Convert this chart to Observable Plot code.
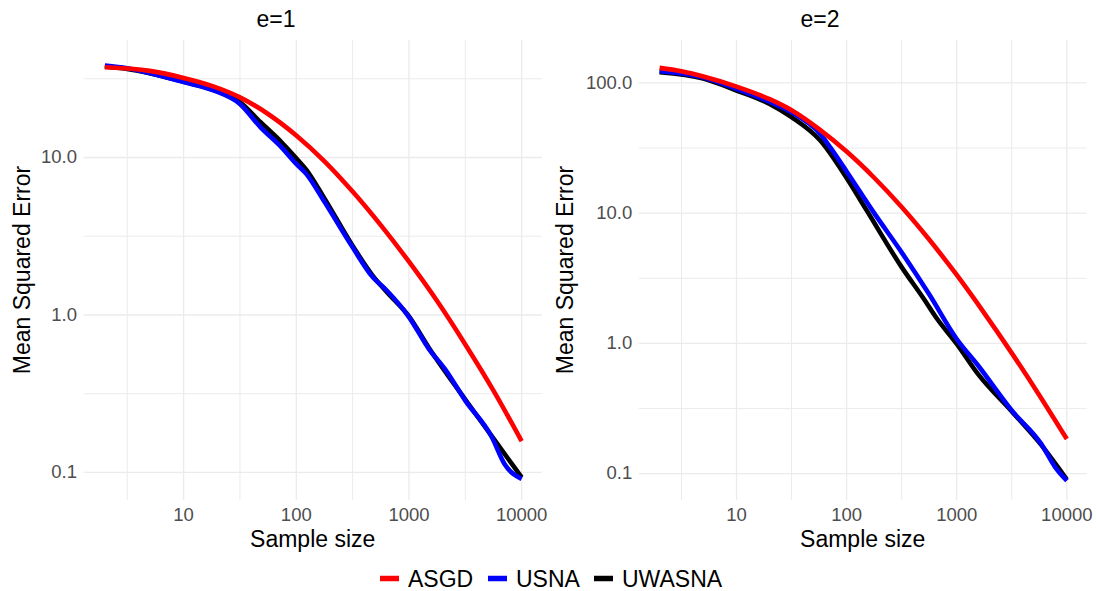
<!DOCTYPE html>
<html><head><meta charset="utf-8">
<script src="https://cdn.jsdelivr.net/npm/d3@7"></script>
<script src="https://cdn.jsdelivr.net/npm/@observablehq/plot@0.6"></script>
<style>
body{margin:0;background:#fff;font-family:"Liberation Sans",Arial,sans-serif;}
#root{position:relative;width:1097px;height:591px;overflow:hidden;background:#fff;}
#root > svg{position:absolute;top:0;}
</style></head><body><div id="root"></div>
<script>
// ---------- data ----------
const panelTitles = ["e=1", "e=2"];
const seriesNames = ["ASGD", "USNA", "UWASNA"];
const seriesColors = ["#FF0000", "#0000FF", "#000000"];
const xLabel = "Sample size";
const yLabel = "Mean Squared Error";

const xTicks = [10, 100, 1000, 10000];
const xTickLabels = ["10", "100", "1000", "10000"];
const xMinor = [3.1623, 31.623, 316.23, 3162.3];

const yTicksE1 = [0.1, 1, 10];
const yTickLabelsE1 = ["0.1", "1.0", "10.0"];
const yMinorE1 = [0.31623, 3.1623, 31.623];
const yTicksE2 = [0.1, 1, 10, 100];
const yTickLabelsE2 = ["0.1", "1.0", "10.0", "100.0"];
const yMinorE2 = [0.31623, 3.1623, 31.623];

// e=1
const nE1Asgd = [2, 5, 10, 17.8, 31.6, 56.2, 100, 178, 316, 562, 1000, 1778, 3162, 5623, 10000];
const mseE1Asgd = [37.4, 35.5, 32.0, 28.5, 24.1, 18.9, 13.8, 9.46, 6.08, 3.72, 2.18, 1.226, 0.650, 0.331, 0.158];
const nE1Usna = [2, 3.16, 10, 18.7, 31.6, 48, 74, 100, 122, 175, 316, 476, 635, 1000, 1500, 2080, 3162, 5430, 7000, 10000];
const mseE1Usna = [38.4, 36.9, 30.1, 26.6, 21.9, 15.6, 11.6, 9.1, 7.9, 5.33, 2.69, 1.74, 1.43, 0.97, 0.61, 0.455, 0.286, 0.168, 0.114, 0.091];
const nE1Uwasna = [2, 3.16, 10, 18.7, 31.6, 48, 74, 100, 122, 175, 316, 476, 635, 1000, 1500, 3162, 5430, 10000];
const mseE1Uwasna = [37.8, 36.5, 30.3, 26.8, 22.5, 16.8, 12.5, 9.9, 8.4, 5.6, 2.75, 1.78, 1.40, 0.98, 0.62, 0.29, 0.17, 0.093];

// e=2
const nE2Asgd = [2, 3.16, 5, 10, 20, 31.6, 56.2, 100, 178, 316, 562, 1000, 1778, 3162, 5623, 10000];
const mseE2Asgd = [130.6, 123, 112, 93.8, 75, 61.7, 44.2, 29.7, 18.7, 11.15, 6.27, 3.35, 1.708, 0.841, 0.40, 0.184];
const nE2Usna = [2, 5, 10, 20, 31.6, 57.7, 71.8, 100, 178, 316, 562, 1000, 1563, 3162, 5850, 7830, 10000];
const mseE2Usna = [123, 110, 90, 71.6, 59.6, 40.6, 31.6, 20.9, 10.0, 5.0, 2.38, 1.08, 0.676, 0.305, 0.169, 0.112, 0.088];
const nE2Uwasna = [2, 5, 10, 20, 31.6, 57.7, 100, 150, 316, 500, 650, 1000, 1563, 3162, 5850, 10000];
const mseE2Uwasna = [121, 108, 87.5, 69, 54.6, 36.1, 18.6, 10.7, 3.85, 2.21, 1.58, 0.99, 0.58, 0.30, 0.166, 0.09];

// ---------- build tables ----------
function zip(series, ns, vs) { return ns.map((n, i) => ({series, n, v: vs[i]})); }
const rowsE1 = [
  ...zip("ASGD", nE1Asgd, mseE1Asgd),
  ...zip("USNA", nE1Usna, mseE1Usna),
  ...zip("UWASNA", nE1Uwasna, mseE1Uwasna)
];
const rowsE2 = [
  ...zip("ASGD", nE2Asgd, mseE2Asgd),
  ...zip("USNA", nE2Usna, mseE2Usna),
  ...zip("UWASNA", nE2Uwasna, mseE2Uwasna)
];

// x domain: 5% expansion of the log range of the data
const allN = [...rowsE1, ...rowsE2].map(d => Math.log10(d.n));
const [lo, hi] = d3.extent(allN);
const pad = 0.05 * (hi - lo);
const xDomain = [10 ** (lo - pad), 10 ** (hi + pad)];
const yDomainE1 = [10 ** -1.178, 10 ** 1.743];
const yDomainE2 = [10 ** -1.207, 10 ** 2.326];

const FONT = '"Liberation Sans", Arial, sans-serif';
const GRID = "#EBEBEB";
const drawOrder = ["UWASNA", "USNA", "ASGD"];

function panel({rows, yDomain, yTicks, yLabels, yMinor, width, ml, mr}) {
  return Plot.plot({
    width, height: 560,
    marginLeft: ml, marginRight: mr, marginTop: 40, marginBottom: 60,
    style: {fontFamily: FONT, fontSize: "18.5px", background: "transparent", overflow: "visible"},
    x: {type: "log", domain: xDomain},
    y: {type: "log", domain: yDomain},
    marks: [
      Plot.ruleX(xMinor, {stroke: GRID, strokeWidth: 1}),
      Plot.ruleX(xTicks, {stroke: GRID, strokeWidth: 1.3}),
      Plot.ruleY(yMinor, {stroke: GRID, strokeWidth: 1}),
      Plot.ruleY(yTicks, {stroke: GRID, strokeWidth: 1.3}),
      Plot.axisX({ticks: xTicks, tickFormat: d => xTickLabels[xTicks.indexOf(d)], tickSize: 0, tickPadding: 7,
                  fontSize: 18.5, color: "#4D4D4D", label: null}),
      Plot.axisY({ticks: yTicks, tickFormat: d => yLabels[yTicks.indexOf(d)], tickSize: 0, tickPadding: 7,
                  fontSize: 18.5, color: "#4D4D4D", label: null}),
      ...drawOrder.map(s => Plot.line(rows.filter(d => d.series === s), {
        x: "n", y: "v", stroke: seriesColors[seriesNames.indexOf(s)],
        strokeWidth: 4.6, curve: "monotone-x", strokeLinecap: "butt", strokeLinejoin: "round"
      }))
    ]
  });
}

const root = document.getElementById("root");
const left = panel({rows: rowsE1, yDomain: yDomainE1, yTicks: yTicksE1, yLabels: yTickLabelsE1, yMinor: yMinorE1,
                    width: 550, ml: 83.5, mr: 8});
left.style.left = "0px";
root.appendChild(left);
const right = panel({rows: rowsE2, yDomain: yDomainE2, yTicks: yTicksE2, yLabels: yTickLabelsE2, yMinor: yMinorE2,
                     width: 542, ml: 83.7, mr: 10.3});
right.style.left = "555px";
root.appendChild(right);

// ---------- overlay text: titles, axis titles, legend ----------
const ov = d3.select(root).append("svg")
  .attr("width", 1097).attr("height", 591)
  .style("left", "0px").style("pointer-events", "none")
  .style("font-family", FONT);

const titleX = [276, 820];
const xTitleX = [312.7, 862.7];
const yTitleX = [30, 573.3];
panelTitles.forEach((t, i) => {
  ov.append("text").attr("x", titleX[i]).attr("y", 27).attr("text-anchor", "middle")
    .attr("font-size", 23).attr("fill", "#000").text(t);
  ov.append("text").attr("x", xTitleX[i]).attr("y", 547).attr("text-anchor", "middle")
    .attr("font-size", 23).attr("fill", "#000").text(xLabel);
  ov.append("text").attr("transform", `translate(${yTitleX[i]},270) rotate(-90)`).attr("text-anchor", "middle")
    .attr("font-size", 23).attr("fill", "#000").text(yLabel);
});

const keyX = [380, 488, 594];
seriesNames.forEach((s, i) => {
  ov.append("line").attr("x1", keyX[i]).attr("x2", keyX[i] + 19).attr("y1", 578.5).attr("y2", 578.5)
    .attr("stroke", seriesColors[i]).attr("stroke-width", 5.5);
  ov.append("text").attr("x", keyX[i] + 28).attr("y", 586.5).attr("font-size", 23).attr("fill", "#000").text(s);
});
</script></body></html>
